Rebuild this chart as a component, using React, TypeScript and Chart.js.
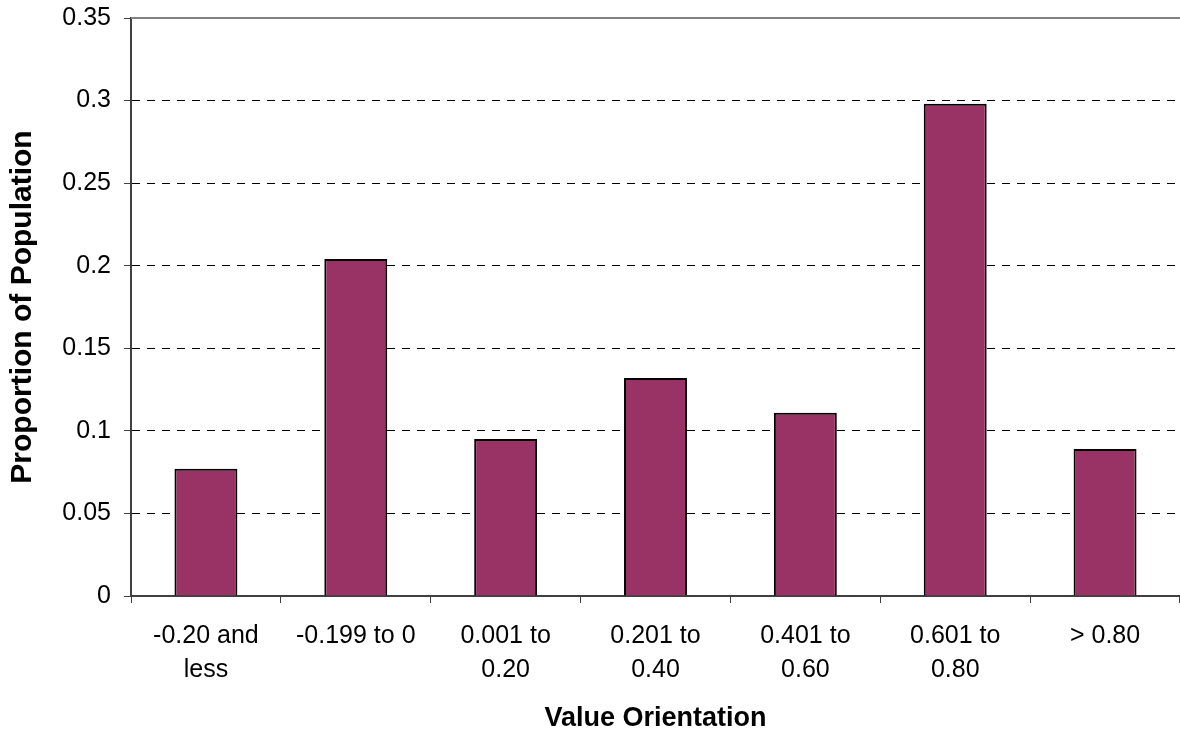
import React, { useEffect, useRef } from "react";
import { Chart, registerables } from "chart.js";

Chart.register(...registerables);

const categories: string[][] = [
  ["-0.20 and", "less"],
  ["-0.199 to 0"],
  ["0.001 to", "0.20"],
  ["0.201 to", "0.40"],
  ["0.401 to", "0.60"],
  ["0.601 to", "0.80"],
  ["> 0.80"],
];
const proportions: number[] = [0.077, 0.204, 0.095, 0.132, 0.111, 0.298, 0.089];
const yMin = 0;
const yMax = 0.35;
const yStep = 0.05;
const xTitle = "Value Orientation";
const yTitle = "Proportion of Population";

const FONT = "'Liberation Sans', Arial, Helvetica, sans-serif";

const topBorder = {
  id: "topBorder",
  afterDraw(chart: any) {
    const { ctx, chartArea } = chart;
    ctx.save();
    ctx.strokeStyle = "#808080";
    ctx.lineWidth = 2;
    ctx.beginPath();
    ctx.moveTo(chartArea.left, chartArea.top);
    ctx.lineTo(chartArea.right, chartArea.top);
    ctx.stroke();
    ctx.restore();
  },
};

export default function App() {
  const ref = useRef<HTMLCanvasElement | null>(null);
  useEffect(() => {
    if (!ref.current) return;
    const chart = new Chart(ref.current, {
      type: "bar",
      data: {
        labels: categories,
        datasets: [
          {
            data: proportions,
            backgroundColor: "#993366",
            borderColor: "#000000",
            borderWidth: 2,
            barPercentage: 0.42,
            categoryPercentage: 1,
          },
        ],
      },
      options: {
        responsive: false,
        animation: false,
        layout: { padding: { top: 18, left: 5, right: 0, bottom: 0 } },
        plugins: {
          legend: { display: false },
          tooltip: { enabled: false },
        },
        scales: {
          x: {
            afterFit: (s: any) => {
              s.height = 144;
            },
            grid: {
              display: true,
              drawOnChartArea: false,
              drawTicks: true,
              tickLength: 7,
              tickColor: "#404040",
              tickWidth: 1,
              offset: true,
            },
            border: { display: true, color: "#404040", width: 2 },
            ticks: {
              color: "#000",
              font: { family: FONT, size: 25, lineHeight: 1.35 },
              padding: 16,
              autoSkip: false,
              maxRotation: 0,
              minRotation: 0,
            },
            title: {
              display: true,
              text: xTitle,
              color: "#000",
              font: { family: FONT, size: 27, weight: "bold", lineHeight: 1.2 },
              padding: { top: 10, bottom: 5 },
            },
          },
          y: {
            min: yMin,
            max: yMax,
            afterFit: (s: any) => {
              s.width = 126;
              s.paddingTop = 0;
              s.paddingBottom = 0;
            },
            ticks: {
              stepSize: yStep,
              color: "#000",
              font: { family: FONT, size: 25 },
              padding: 13,
              callback: (v: any) => String(Number(Number(v).toFixed(2))),
            },
            grid: {
              color: (c: any) => {
                const v = c.tick ? c.tick.value : 0;
                if (v <= 0.0001 || v >= yMax - 0.0001) return "rgba(0,0,0,0)";
                return "#000000";
              },
              tickColor: "#404040",
              tickLength: 7,
              lineWidth: 1,
            },
            border: { display: true, color: "#404040", width: 2, dash: [8, 7] },
            title: {
              display: true,
              text: yTitle,
              color: "#000",
              font: { family: FONT, size: 30, weight: "bold", lineHeight: 1.2 },
              padding: { top: 0, bottom: 4 },
            },
          },
        },
      },
      plugins: [topBorder],
    });
    return () => chart.destroy();
  }, []);
  return (
    <div style={{ position: "absolute", left: 0, top: 0, width: 1180, height: 740, background: "#fff" }}>
      <canvas ref={ref} width={1180} height={740} />
    </div>
  );
}
